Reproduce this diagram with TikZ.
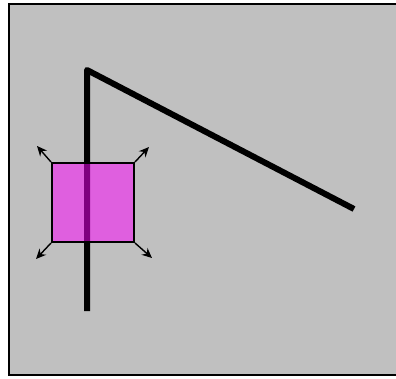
\documentclass[tikz,border=0pt]{standalone}
\usepackage{tikz}
\usetikzlibrary{arrows.meta, positioning}
\usepackage{xcolor}
\definecolor{selfill}{RGB}{255,0,255}
\definecolor{panel}{RGB}{192,192,192}

\tikzset{
  arm/.style={line width=6pt, line join=round},
  box/.style={draw=black, line width=2pt, fill=selfill, fill opacity=0.5, minimum width=82pt, minimum height=79pt, inner sep=0pt},
  handle/.style={-{Stealth[length=10pt, width=9pt]}, line width=1.4pt}
}

\begin{document}
\begin{tikzpicture}[x=1pt, y=-1pt]
  \useasboundingbox (0,0) rectangle (396,378);
  \clip (0,0) rectangle (396,378);

  % background frame
  \draw[line width=2.5pt, fill=panel] (9,4) rectangle (430,375);

  % the bent line
  \coordinate (top) at (87,70);
  \coordinate (foot) at (87,311);
  \coordinate (tip) at (354,209);
  \draw[arm] (foot) -- (top) -- (tip);

  % selection box with its handles
  \node[box] (sel) at (93,202.5) {};
  \coordinate (nw) at (37,146);
  \coordinate (ne) at (149,147);
  \coordinate (sw) at (36,259);
  \coordinate (se) at (152,258);
  \draw[handle] (sel.north west) -- (nw);
  \draw[handle] (sel.north east) -- (ne);
  \draw[handle] (sel.south west) -- (sw);
  \draw[handle] (sel.south east) -- (se);
\end{tikzpicture}
\end{document}
